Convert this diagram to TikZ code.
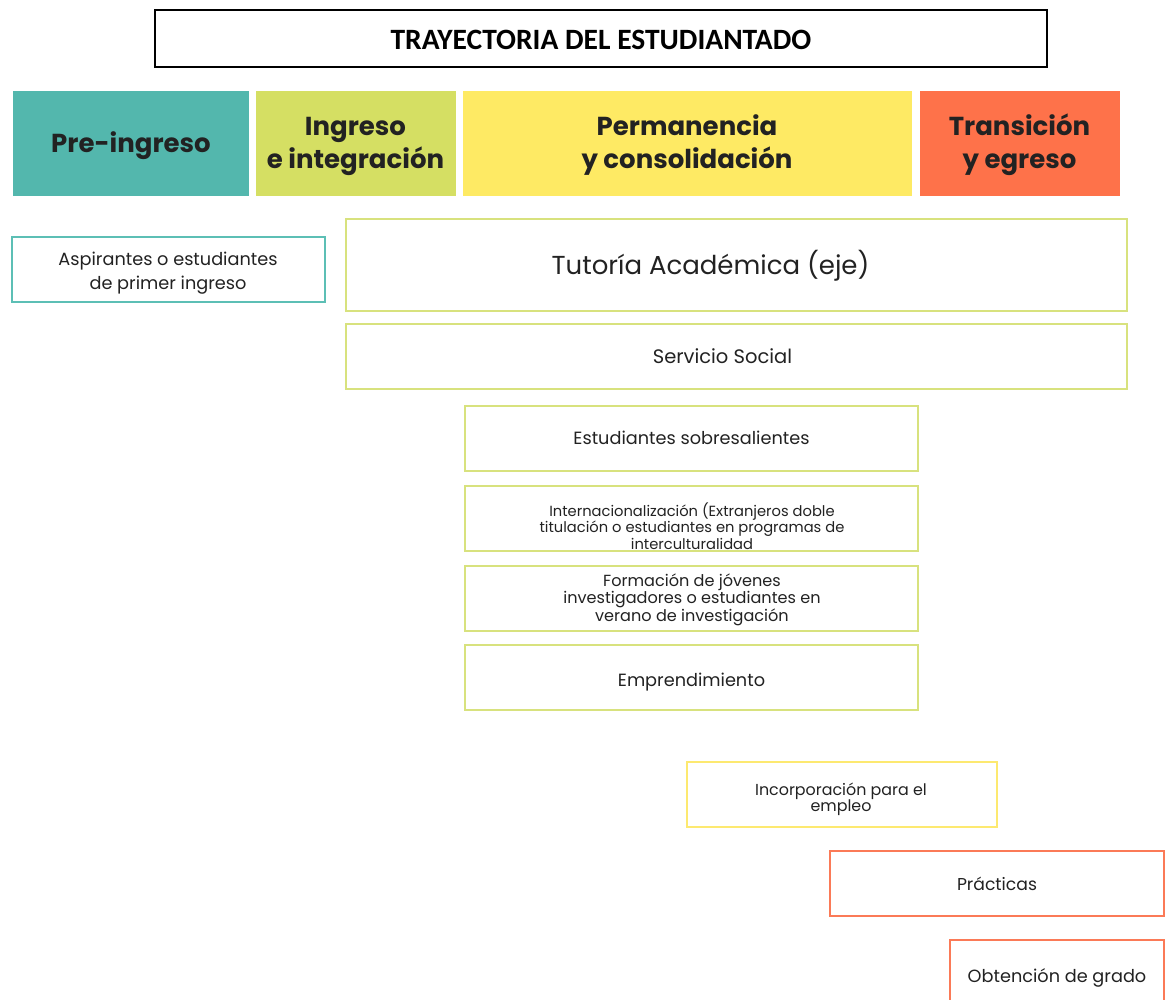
\documentclass[tikz,border=0pt]{standalone}
\usepackage{fontspec}
\setmainfont{Poppins}
\newfontfamily\titlefont{Carlito}
\definecolor{cteal}{HTML}{53B7AD}
\definecolor{cgreen}{HTML}{D5DF63}
\definecolor{cyellow}{HTML}{FEEA64}
\definecolor{corange}{HTML}{FE724A}
\definecolor{bteal}{HTML}{5CBFB5}
\definecolor{bgreen}{HTML}{D8E27E}
\definecolor{byellow}{HTML}{FDE970}
\definecolor{borange}{HTML}{FB7A57}
\definecolor{ink}{HTML}{222222}
\tikzset{
  phase/.style={rectangle, draw=white, line width=1pt, outer sep=0pt, inner sep=0pt, anchor=north west},
  phaselbl/.style={align=center, text=ink, inner sep=0pt, font=\fontsize{26}{33}\selectfont\bfseries},
  itembox/.style={rectangle, draw=#1, line width=2pt, outer sep=0pt, inner sep=0pt, anchor=north west, align=center, text=ink, fill=white},
  body/.style={font=\fontsize{17.7}{20}\selectfont},
  bl/.style={text height=#1, text depth=0pt},
  lbl/.style={text=ink, align=center, inner sep=0pt},
}
\begin{document}
\begin{tikzpicture}[x=1pt,y=-1pt]
\useasboundingbox (0,0) rectangle (1165,999);
% title
\node[rectangle, draw=black, line width=1.3pt, outer sep=0pt, inner sep=0pt, anchor=north west, minimum width=892pt, minimum height=57pt, font=\titlefont\fontsize{29.5}{32}\selectfont\bfseries, text height=22pt, text depth=0pt] (title) at (155,10) {TRAYECTORIA DEL ESTUDIANTADO};
% phases
\node[phase, fill=cteal, minimum width=237pt, minimum height=106pt] (pre) at (12,90) {};
\node[phaselbl] (prelbl) at (131,146) {Pre-ingreso};
\node[phase, fill=cgreen, minimum width=201pt, minimum height=106pt] (ing) at (255,90) {};
\node[phaselbl] (inglbl) at (355.5,146) {Ingreso\\e integración};
\node[phase, fill=cyellow, minimum width=450pt, minimum height=106pt] (perm) at (462,90) {};
\node[phaselbl] (permlbl) at (687,145) {Permanencia\\y consolidación};
\node[phase, fill=corange, minimum width=201pt, minimum height=106pt] (trans) at (919,90) {};
\node[phaselbl] (translbl) at (1019.5,145) {Transición\\y egreso};
% items
\node[itembox=bteal, minimum width=313pt, minimum height=65pt] (asp) at (12,237) {};
\node[lbl, font=\fontsize{17.7}{24}\selectfont] (asplabel) at (168,273.5) {Aspirantes o estudiantes\\de primer ingreso};
\node[itembox=bgreen, minimum width=781pt, minimum height=92pt] (tut) at (346,219) {};
\node[lbl, font=\fontsize{26}{30}\selectfont] (tutlabel) at (710.5,266) {Tutoría Académica (eje)};
\node[itembox=bgreen, minimum width=781pt, minimum height=65pt] (ss) at (346,324) {};
\node[lbl, font=\fontsize{19.5}{22}\selectfont, anchor=base] (sslabel) at (722.5,363.5) {Servicio Social};
\node[itembox=bgreen, body, minimum width=453pt, minimum height=65pt, bl=11.4pt] (sob) at (465,406) {Estudiantes sobresalientes};
\node[itembox=bgreen, minimum width=453pt, minimum height=65pt] (int) at (465,486) {};
\node[lbl, font=\fontsize{14.7}{16.5}\selectfont] (intlabel) at (692,526) {Internacionalización (Extranjeros doble\\titulación o estudiantes en programas de\\interculturalidad};
\node[itembox=bgreen, minimum width=453pt, minimum height=65pt] (form) at (465,566) {};
\node[lbl, font=\fontsize{16.1}{16}\selectfont] (formlabel) at (692,600) {Formación de jóvenes\\investigadores o estudiantes en\\verano de investigación};
\node[itembox=bgreen, body, minimum width=453pt, minimum height=65pt, bl=17.4pt] (emp) at (465,645) {Emprendimiento};
\node[itembox=byellow, minimum width=310pt, minimum height=65pt] (inc) at (687,762) {};
\node[lbl, font=\fontsize{15.9}{16}\selectfont] (inclabel) at (841,799.5) {Incorporación para el\\empleo};
\node[itembox=borange, font=\fontsize{17.2}{20}\selectfont, minimum width=334pt, minimum height=65pt, bl=13.4pt] (prac) at (830,851) {Prácticas};
\node[itembox=borange, body, minimum width=214pt, minimum height=70pt, bl=14.4pt] (obt) at (950,940) {Obtención de grado};
\end{tikzpicture}
\end{document}
